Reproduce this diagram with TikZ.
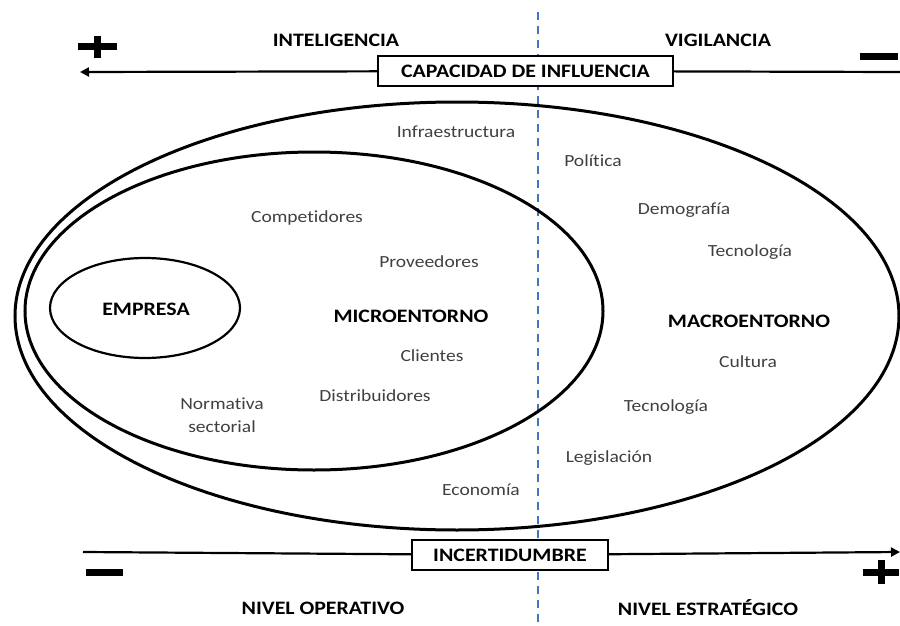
\documentclass[tikz,border=0pt]{standalone}
\usepackage{fontspec}
\setmainfont[Ligatures=NoCommon]{Carlito}
\usepackage{graphicx}
\usetikzlibrary{arrows.meta}

\definecolor{dashblue}{HTML}{4472C4}
\definecolor{txtgray}{HTML}{404040}
\newcommand{\wide}[1]{\scalebox{1.15}[1]{#1}}

\tikzset{
  item/.style={text=txtgray,font=\fontsize{17}{23}\selectfont,inner sep=0pt,align=center},
  title/.style={font=\fontsize{19}{22}\selectfont\bfseries,inner sep=0pt},
  axisbox/.style={draw,fill=white,line width=1.2pt,minimum height=30pt,inner sep=0pt,
    font=\fontsize{19}{22}\selectfont\bfseries},
  axisline/.style={line width=2.2pt},
  sign/.style={line width=7pt},
  ring/.style={line width=3pt},
}

\begin{document}
\begin{tikzpicture}[x=1pt,y=-1pt]
     	\useasboundingbox (0,0) rectangle (900,626);
     	
     	\draw[dashblue,line width=2pt,dash pattern=on 8pt off 6pt] (538,12) -- (538,626);
     	
     	\draw[ring] (457,316) ellipse [x radius=442, y radius=214];
     	\draw[ring] (314,311) ellipse [x radius=289, y radius=159];
     	\draw[line width=2.2pt] (145,308) ellipse [x radius=95, y radius=50];
     	
     	\node[title] (inteligencia) at (336,40) {\wide{INTELIGENCIA}};
     	\node[title] (vigilancia) at (718,40) {\wide{VIGILANCIA}};
     	\node[title] (operativo) at (323,608) {\wide{NIVEL OPERATIVO}};
     	\node[title] (estrategico) at (708,608) {\wide{NIVEL ESTRATÉGICO}};
     	
     	\coordinate (topR) at (900,72);
     	\coordinate (topL) at (80,72);
     	\node[axisbox,minimum width=295pt] (influencia) at (525.5,71) {\wide{CAPACIDAD DE INFLUENCIA}};
     	\draw[axisline] (topR) -- (influencia);
     	\draw[axisline,-{Triangle[length=9pt,width=9pt]}] (influencia) -- (topL);
     	
     	\coordinate (botL) at (83,552);
     	\coordinate (botR) at (900,552);
     	\node[axisbox,minimum width=196pt] (incertidumbre) at (510,555) {\wide{INCERTIDUMBRE}};
     	\draw[axisline] (botL) -- (incertidumbre);
     	\draw[axisline,-{Triangle[length=9pt,width=9pt]}] (incertidumbre) -- (botR);
     	
     	\draw[sign] (78,47) -- (117,47);
     	\draw[sign] (97.5,36) -- (97.5,58);
     	\draw[sign] (860,57) -- (898,57);
     	\draw[sign] (86,572) -- (123,572);
     	\draw[sign] (863,572) -- (899,572);
     	\draw[sign] (881,560) -- (881,584);
     	
     	\node[title] (empresa) at (146,309) {\wide{EMPRESA}};
     	\node[title] (micro) at (411,316) {\wide{MICROENTORNO}};
     	\node[title] (macro) at (749,321) {\wide{MACROENTORNO}};
     	
     	\node[item] (infra) at (456,132) {\wide{Infraestructura}};
     	\node[item] (politica) at (593,161) {\wide{Política}};
     	\node[item] (demografia) at (684,210) {\wide{Demografía}};
     	\node[item] (tecno1) at (750,252) {\wide{Tecnología}};
     	\node[item] (competidores) at (307,218) {\wide{Competidores}};
     	\node[item] (proveedores) at (429,262) {\wide{Proveedores}};
     	\node[item] (clientes) at (432,356) {\wide{Clientes}};
     	\node[item] (cultura) at (748,362) {\wide{Cultura}};
     	\node[item] (distribuidores) at (375,396) {\wide{Distribuidores}};
     	\node[item] (normativa) at (222,415) {\wide{Normativa}\\\wide{sectorial}};
     	\node[item] (tecno2) at (666,407) {\wide{Tecnología}};
     	\node[item] (legislacion) at (609,458) {\wide{Legislación}};
     	\node[item] (economia) at (481,490) {\wide{Economía}};
     	\end{tikzpicture}
\end{document}
